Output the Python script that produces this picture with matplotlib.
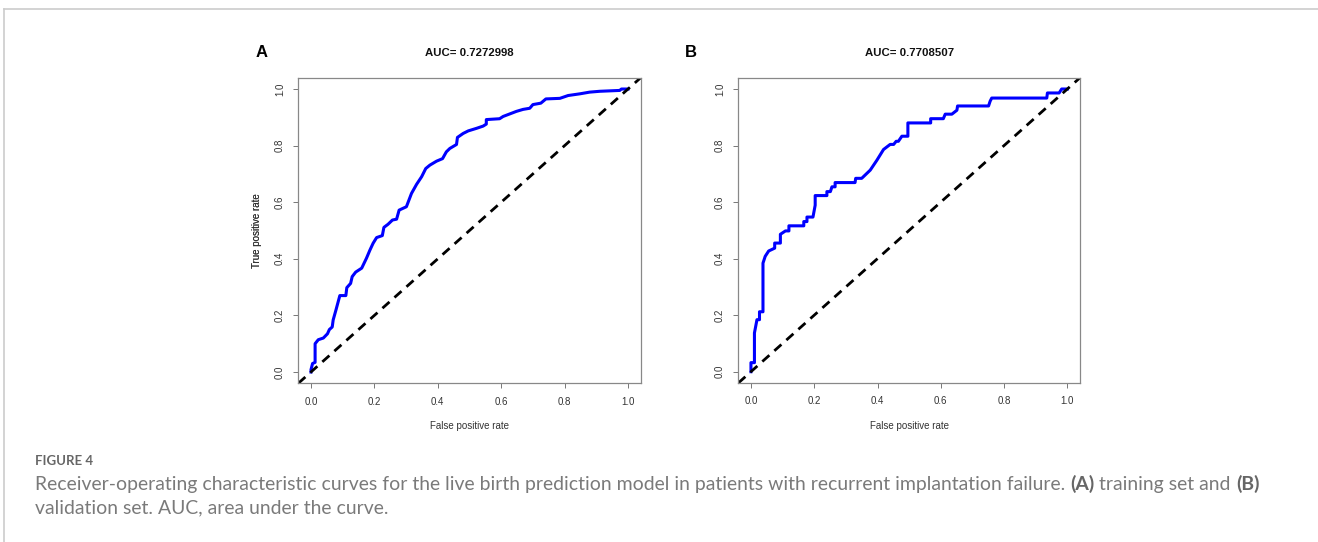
import matplotlib
matplotlib.use("Agg")
import matplotlib.pyplot as plt
from matplotlib.lines import Line2D

# ROC curve points (false positive rate, true positive rate)
fpr_a = [0.0, 0.0, 0.005, 0.013, 0.013, 0.023, 0.039, 0.052, 0.058, 0.067, 0.07, 0.079,
         0.091, 0.11, 0.113, 0.125, 0.13, 0.141, 0.16, 0.175, 0.186, 0.196, 0.207, 0.225,
         0.23, 0.243, 0.257, 0.27, 0.278, 0.301, 0.317, 0.333, 0.349, 0.362, 0.375, 0.396,
         0.415, 0.427, 0.438, 0.459, 0.462, 0.48, 0.496, 0.522, 0.543, 0.553, 0.553, 0.595,
         0.606, 0.627, 0.648, 0.669, 0.69, 0.7, 0.725, 0.741, 0.785, 0.811, 0.848, 0.879,
         0.911, 0.974, 0.979, 1.0]
tpr_a = [0.0, 0.008, 0.03, 0.034, 0.10, 0.114, 0.12, 0.135, 0.15, 0.159, 0.184, 0.22,
         0.27, 0.27, 0.298, 0.313, 0.337, 0.353, 0.367, 0.402, 0.431, 0.455, 0.475, 0.482,
         0.511, 0.522, 0.537, 0.54, 0.572, 0.584, 0.631, 0.663, 0.69, 0.719, 0.731, 0.745,
         0.754, 0.778, 0.79, 0.804, 0.829, 0.843, 0.852, 0.861, 0.869, 0.876, 0.892, 0.895,
         0.903, 0.912, 0.921, 0.928, 0.932, 0.945, 0.95, 0.965, 0.967, 0.977, 0.983, 0.989,
         0.992, 0.995, 1.0, 1.0]

fpr_b = [0.0, 0.0, 0.011, 0.011, 0.019, 0.027, 0.027, 0.038, 0.038, 0.045, 0.056, 0.075,
         0.075, 0.093, 0.093, 0.109, 0.12, 0.12, 0.167, 0.167, 0.177, 0.177, 0.196, 0.203,
         0.203, 0.24, 0.24, 0.251, 0.256, 0.266, 0.266, 0.329, 0.331, 0.35, 0.377, 0.398,
         0.419, 0.44, 0.451, 0.459, 0.466, 0.477, 0.496, 0.496, 0.568, 0.568, 0.608, 0.614,
         0.635, 0.651, 0.653, 0.751, 0.756, 0.761, 0.935, 0.937, 0.974, 0.982, 1.0]
tpr_b = [0.0, 0.032, 0.032, 0.137, 0.184, 0.184, 0.212, 0.212, 0.384, 0.408, 0.427, 0.437,
         0.455, 0.455, 0.486, 0.498, 0.498, 0.516, 0.516, 0.531, 0.531, 0.547, 0.547, 0.589,
         0.623, 0.623, 0.637, 0.637, 0.654, 0.654, 0.669, 0.669, 0.684, 0.684, 0.713, 0.748,
         0.786, 0.804, 0.804, 0.815, 0.815, 0.833, 0.833, 0.88, 0.88, 0.895, 0.895, 0.911,
         0.911, 0.925, 0.94, 0.94, 0.957, 0.968, 0.968, 0.986, 0.986, 1.0, 1.0]

panels = ["A", "B"]
titles = ["AUC= 0.7272998", "AUC= 0.7708507"]
ticks = [0.0, 0.2, 0.4, 0.6, 0.8, 1.0]
tick_labels = ["0.0", "0.2", "0.4", "0.6", "0.8", "1.0"]

W, H = 1318, 542
fig = plt.figure(figsize=(W / 100, H / 100), dpi=100)
plt.rcParams["font.family"] = ["Liberation Sans", "DejaVu Sans"]

# panel frame in pixels: left, right, top, bottom
boxes = [(298.3, 640.7, 77.7, 383.3), (738.3, 1080.0, 77.7, 383.0)]
curves = [(fpr_a, tpr_a), (fpr_b, tpr_b)]
letter_x = [262, 691]

for i in range(2):
    l, r, t, b = boxes[i]
    ax = fig.add_axes([l / W, 1 - b / H, (r - l) / W, (b - t) / H])
    fx, fy = curves[i]
    ax.plot(fx, fy, color="#0000ff", lw=2.2, solid_joinstyle="round")
    ax.axline((0, 0), slope=1, color="black", lw=2.0, linestyle=(0, (3.4, 2.4)))
    ax.set_xlim(-0.04, 1.04)
    ax.set_ylim(-0.04, 1.04)
    ax.set_xticks(ticks)
    ax.set_xticklabels(tick_labels)
    ax.set_yticks(ticks)
    ax.set_yticklabels(tick_labels, rotation=90, va="center")
    ax.tick_params(length=3.6, width=0.7, color="#777777", labelsize=7,
                   labelcolor="#333333", pad=6)
    for s in ax.spines.values():
        s.set_color("#888888")
        s.set_linewidth(0.9)
    ax.set_xlabel("False positive rate", fontsize=7, color="#333333")
    ax.set_ylabel("True positive rate", fontsize=7, color="#333333")
    ax.xaxis.label.set_va("center")
    ax.yaxis.label.set_va("center")
    ax.xaxis.set_label_coords(0.5, (b - 426) / (b - t))
    ax.yaxis.set_label_coords((257 - l) / (r - l), 0.5)
    fig.text((l + r) / 2 / W, 1 - 53 / H, titles[i], fontsize=8.2, fontweight="bold",
             ha="center", va="center", color="#111111")
    fig.text(letter_x[i] / W, 1 - 52.5 / H, panels[i], fontsize=12, fontweight="bold",
             ha="center", va="center", color="black")

# outer border of the figure box
fig.add_artist(Line2D([4 / W, 1], [1 - 9 / H, 1 - 9 / H], color="#cccccc", lw=1.2))
fig.add_artist(Line2D([4 / W, 4 / W], [0, 1 - 9 / H], color="#cccccc", lw=1.2))

# caption
cap_font = ["Lato", "DejaVu Sans"]
fig.text(35 / W, 1 - 461 / H, "FIGURE 4", fontsize=9.5, fontweight="bold",
         family=cap_font, color="#666666", va="center")

line1 = [("Receiver-operating characteristic curves for the live birth prediction model in "
          "patients with recurrent implantation failure. ", "normal"),
         ("(A)", "bold"), (" training set and ", "normal"), ("(B)", "bold")]
line2 = [("validation set. AUC, area under the curve.", "normal")]

renderer = fig.canvas.get_renderer()


def measure(runs, fs):
    w = 0
    for txt, wt in runs:
        tt = fig.text(0, 0, txt, fontsize=fs, fontweight=wt, family=cap_font)
        w += tt.get_window_extent(renderer).width
        tt.remove()
    return w


fs = 13 * 1218 / measure(line1, 13)


def draw_runs(runs, y):
    x = 35
    for txt, wt in runs:
        col = "#666666" if wt == "bold" else "#7a7a7a"
        tt = fig.text(x / W, 1 - y / H, txt, fontsize=fs, fontweight=wt,
                      family=cap_font, color=col, va="baseline")
        x += tt.get_window_extent(renderer).width


draw_runs(line1, 490)
draw_runs(line2, 513)

fig.savefig("out.png", dpi=100)
